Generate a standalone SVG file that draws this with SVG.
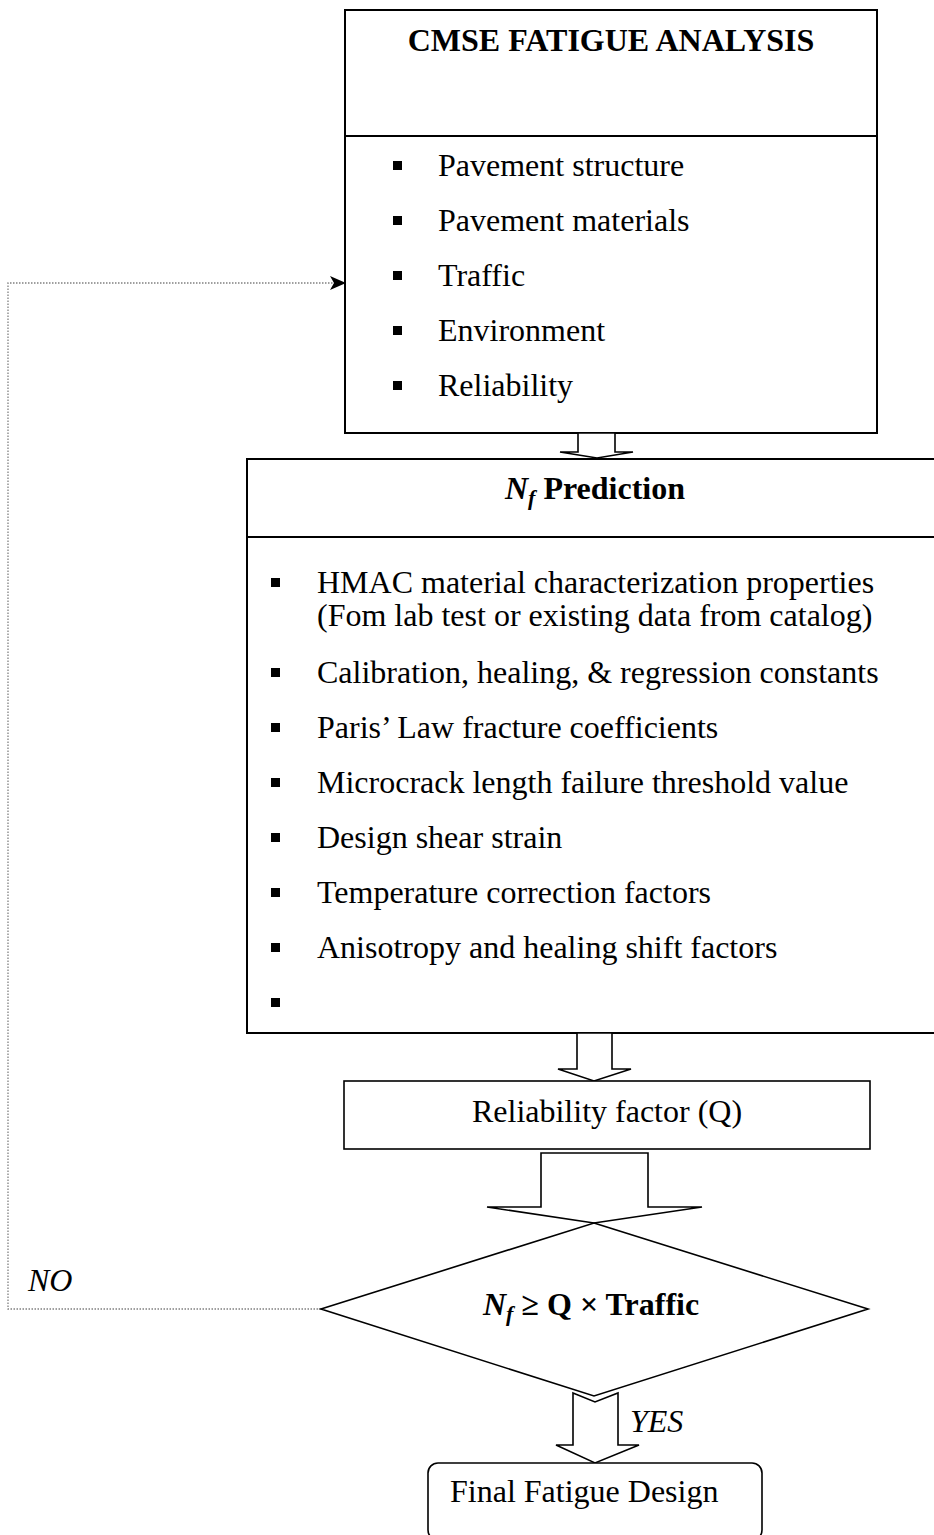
<svg xmlns="http://www.w3.org/2000/svg" width="934" height="1535" viewBox="0 0 934 1535">
  <defs>
    <style>
      .box { fill: #fff; stroke: #000; stroke-width: 2; }
      .thin { fill: #fff; stroke: #000; stroke-width: 1.6; }
      .arrow { fill: #fff; stroke: #000; stroke-width: 1.6; stroke-linejoin: miter; }
      .t { font-family: "Liberation Serif", "Times New Roman", serif; font-size: 32px; fill: #000; }
      .b { font-weight: bold; }
      .i { font-style: italic; }
      .bullet { fill: #000; }
      .loop { fill: none; stroke: #808080; stroke-width: 1.3; stroke-dasharray: 1.5 1.5; }
    </style>
    <marker id="stealth" viewBox="0 0 16 16" refX="15" refY="8" markerWidth="16" markerHeight="16" markerUnits="userSpaceOnUse" orient="auto">
      <path d="M0,1 L16,8 L0,15 L4,8 Z" fill="#000"/>
    </marker>
  </defs>

  <!-- feedback loop: NO branch back to the analysis inputs -->
  <g id="connectors">
    <path class="loop" d="M321,1309 H8 V283 H345" marker-end="url(#stealth)"/>
    <text class="t i" x="28" y="1291">NO</text>
  </g>

  <!-- analysis inputs -->
  <g id="cmse-analysis">
    <rect class="box" x="345" y="10" width="532" height="423"/>
    <line x1="345" y1="136" x2="877" y2="136" stroke="#000" stroke-width="2"/>
    <text class="t b" x="611" y="51" text-anchor="middle">CMSE FATIGUE ANALYSIS</text>
    <rect class="bullet" x="393" y="161" width="9" height="9"/>
    <text class="t" x="438" y="176">Pavement structure</text>
    <rect class="bullet" x="393" y="216" width="9" height="9"/>
    <text class="t" x="438" y="231">Pavement materials</text>
    <rect class="bullet" x="393" y="271" width="9" height="9"/>
    <text class="t" x="438" y="286">Traffic</text>
    <rect class="bullet" x="393" y="326" width="9" height="9"/>
    <text class="t" x="438" y="341">Environment</text>
    <rect class="bullet" x="393" y="381" width="9" height="9"/>
    <text class="t" x="438" y="396">Reliability</text>
  </g>

  <!-- block arrow 1 -->
  <g id="arrow-1">
    <polygon class="arrow" points="578,433 615,433 615,452 633,452 597,458 560,452 578,452"/>
  </g>

  <!-- Nf prediction inputs -->
  <g id="nf-prediction">
    <rect class="box" x="247" y="459" width="700" height="574"/>
    <line x1="247" y1="537" x2="947" y2="537" stroke="#000" stroke-width="2"/>
    <text class="t b" x="505" y="499"><tspan class="i">N</tspan><tspan class="i" font-size="22" dy="6">f</tspan><tspan dy="-6"> Prediction</tspan></text>
    <rect class="bullet" x="271" y="578" width="9" height="9"/>
    <text class="t" x="317" y="593">HMAC material characterization properties</text>
    <text class="t" x="317" y="626">(Fom lab test or existing data from catalog)</text>
    <rect class="bullet" x="271" y="668" width="9" height="9"/>
    <text class="t" x="317" y="683">Calibration, healing, &amp; regression constants</text>
    <rect class="bullet" x="271" y="723" width="9" height="9"/>
    <text class="t" x="317" y="738">Paris’ Law fracture coefficients</text>
    <rect class="bullet" x="271" y="778" width="9" height="9"/>
    <text class="t" x="317" y="793">Microcrack length failure threshold value</text>
    <rect class="bullet" x="271" y="833" width="9" height="9"/>
    <text class="t" x="317" y="848">Design shear strain</text>
    <rect class="bullet" x="271" y="888" width="9" height="9"/>
    <text class="t" x="317" y="903">Temperature correction factors</text>
    <rect class="bullet" x="271" y="943" width="9" height="9"/>
    <text class="t" x="317" y="958">Anisotropy and healing shift factors</text>
    <rect class="bullet" x="271" y="998" width="9" height="9"/>
  </g>

  <!-- block arrow 2 -->
  <g id="arrow-2">
    <polygon class="arrow" points="577,1033 612,1033 612,1069 631,1069 594,1081 558,1069 577,1069"/>
  </g>

  <!-- reliability factor -->
  <g id="reliability-factor">
    <rect class="thin" x="344" y="1081" width="526" height="68"/>
    <text class="t" x="607" y="1122" text-anchor="middle">Reliability factor (Q)</text>
  </g>

  <!-- block arrow 3 -->
  <g id="arrow-3">
    <polygon class="arrow" points="541,1153 648,1153 648,1207 702,1207 594,1223 487,1207 541,1207"/>
  </g>

  <!-- decision -->
  <g id="decision">
    <polygon class="thin" points="594,1223 868,1309 594,1396 321,1309"/>
    <text class="t b" x="483" y="1315"><tspan class="i">N</tspan><tspan class="i" font-size="22" dy="6">f</tspan><tspan dy="-6"> ≥ Q × Traffic</tspan></text>
  </g>

  <!-- YES block arrow -->
  <g id="arrow-yes">
    <polygon class="arrow" points="573,1393 595,1402 618,1393 618,1445 639,1445 595,1463 556,1445 573,1445"/>
    <text class="t i" x="630" y="1432" font-size="31">YES</text>
  </g>

  <!-- final design -->
  <g id="final-design">
    <rect class="thin" x="428" y="1463" width="334" height="77" rx="10" ry="10"/>
    <text class="t" x="450" y="1502">Final Fatigue Design</text>
  </g>
</svg>
